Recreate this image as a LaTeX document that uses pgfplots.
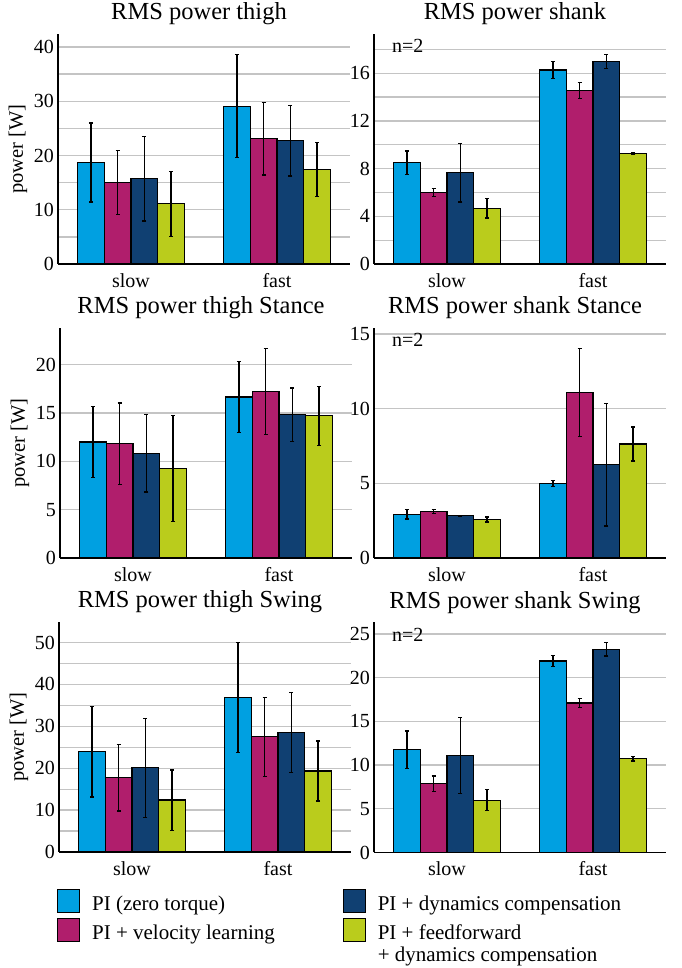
\documentclass[border=0pt]{standalone}
\usepackage{pgfplots}
\pgfplotsset{compat=1.18}
\usepackage{fontspec}
\setmainfont{Liberation Serif}
\definecolor{c1}{RGB}{0,160,225}
\definecolor{c2}{RGB}{176,30,108}
\definecolor{c3}{RGB}{16,64,114}
\definecolor{c4}{RGB}{186,204,28}
\definecolor{gridc}{RGB}{196,196,196}
\pgfplotsset{
  panel/.style={
    scale only axis, width=292pt, height=230pt,
    anchor=south west,
    xmin=-0.5, xmax=1.5, ymin=0,
    xtick={0,1}, xticklabels={slow,fast},
    axis x line*=bottom, axis y line*=left,
    axis line style={black, line width=1.5pt, -},
    major tick length=0pt, minor tick length=0pt,
    ymajorgrids,
    grid style={gridc, line width=1.3pt},
    minor grid style={gridc, line width=1.3pt},
    /pgf/number format/assume math mode=true,
    tick label style={font=\fontsize{20}{24}\selectfont},
    yticklabel style={inner sep=0pt, xshift=-4pt},
    xticklabel style={anchor=base, inner sep=0pt, yshift=-23.5pt},
    title style={font=\fontsize{24.5}{28}\selectfont, anchor=base, at={(0.5,1)}, yshift=8pt, xshift=-5pt},
    ylabel style={font=\fontsize{20.5}{24}\selectfont, at={(axis description cs:-0.137,0.5)}, anchor=center},
    ybar=0pt, bar width=26.7pt,
  },
  eb/.style={error bars/y dir=both, error bars/y explicit,
    error bars/error bar style={line width=1.6pt,black},
    error bars/error mark options={rotate=90, mark size=2pt, line width=1.3pt, black}},
  b1/.style={fill=c1, draw=black, line width=1.2pt, bar shift=-40.05pt, eb},
  b2/.style={fill=c2, draw=black, line width=1.2pt, bar shift=-13.35pt, eb},
  b3/.style={fill=c3, draw=black, line width=1.2pt, bar shift=13.35pt, eb},
  b4/.style={fill=c4, draw=black, line width=1.2pt, bar shift=40.05pt, eb},
  sw/.style={legend image code/.code={\draw[##1, line width=1.2pt] (0pt,-2pt) rectangle (22pt,21pt);}},
}
\newcommand{\ntwo}{\node[anchor=base west, inner sep=0pt, font=\fontsize{20}{24}\selectfont] at (rel axis cs:0.061,0.918) {n=2};}
\begin{document}
\begin{tikzpicture}
\path[use as bounding box] (0,0) rectangle (681pt,968pt);
% Row 1 left
\begin{axis}[panel, at={(58pt,704pt)}, ymax=42.4,
  ytick={0,10,...,40}, minor ytick={5,15,...,35}, yminorgrids,
  title={RMS power thigh}, ylabel={power [W]}]
\addplot[b1] coordinates {(0,18.7) +- (0,7.3) (1,29.1) +- (0,9.5)};
\addplot[b2] coordinates {(0,15.0) +- (0,5.9) (1,23.1) +- (0,6.7)};
\addplot[b3] coordinates {(0,15.7) +- (0,7.8) (1,22.7) +- (0,6.5)};
\addplot[b4] coordinates {(0,11.1) +- (0,6.0) (1,17.4) +- (0,5.0)};
\end{axis}
% Row 1 right
\begin{axis}[panel, at={(374pt,704pt)}, ymax=19.3,
  ytick={0,4,...,16}, minor ytick={2,6,...,18}, yminorgrids,
  title={RMS power shank}]
\addplot[b1] coordinates {(0,8.5) +- (0,0.97) (1,16.28) +- (0,0.74)};
\addplot[b2] coordinates {(0,6.0) +- (0,0.35) (1,14.55) +- (0,0.65)};
\addplot[b3] coordinates {(0,7.66) +- (0,2.45) (1,17.0) +- (0,0.6)};
\addplot[b4] coordinates {(0,4.67) +- (0,0.8) (1,9.26) +- (0,0.05)};
\ntwo
\end{axis}
% Row 2 left
\begin{axis}[panel, at={(60pt,410pt)}, ymax=23.8,
  ytick={0,5,...,20},
  title={RMS power thigh Stance}, ylabel={power [W]}]
\addplot[b1] coordinates {(0,12.0) +- (0,3.65) (1,16.66) +- (0,3.7)};
\addplot[b2] coordinates {(0,11.83) +- (0,4.2) (1,17.24) +- (0,4.45)};
\addplot[b3] coordinates {(0,10.83) +- (0,4.0) (1,14.83) +- (0,2.76)};
\addplot[b4] coordinates {(0,9.28) +- (0,5.5) (1,14.72) +- (0,3.05)};
\end{axis}
% Row 2 right
\begin{axis}[panel, at={(374pt,410pt)}, ymax=15.4,
  ytick={0,5,...,15},
  title={RMS power shank Stance}]
\addplot[b1] coordinates {(0,2.92) +- (0,0.31) (1,4.98) +- (0,0.21)};
\addplot[b2] coordinates {(0,3.12) +- (0,0.12) (1,11.07) +- (0,2.95)};
\addplot[b3] coordinates {(0,2.83) +- (0,0.02) (1,6.25) +- (0,4.1)};
\addplot[b4] coordinates {(0,2.57) +- (0,0.17) (1,7.63) +- (0,1.14)};
\ntwo
\end{axis}
% Row 3 left
\begin{axis}[panel, at={(59pt,116pt)}, ymax=54.9,
  ytick={0,10,...,50}, minor ytick={5,15,...,45}, yminorgrids,
  title={RMS power thigh Swing}, ylabel={power [W]},
  legend columns=2,
  legend style={at={(axis description cs:-0.006,-0.161)}, anchor=north west,
    draw=none, fill=none, inner sep=0pt, outer sep=0pt, row sep=5pt,
    font=\fontsize{21}{22}\selectfont,
    cells={anchor=base west},
    nodes={inner sep=0pt},
    /tikz/every odd column/.append style={column sep=11.7pt},
    /tikz/every even column/.append style={column sep=68pt}}]
\addlegendimage{sw, fill=c1, draw=black}
\addlegendentry{PI (zero torque)}
\addlegendimage{sw, fill=c3, draw=black}
\addlegendentry{PI + dynamics compensation}
\addlegendimage{sw, fill=c2, draw=black}
\addlegendentry{PI + velocity learning}
\addlegendimage{sw, fill=c4, draw=black}
\addlegendentry{\vtop{\hbox{PI + feedforward}\hbox{+ dynamics compensation}}}
\addplot[b1] coordinates {(0,23.9) +- (0,10.75) (1,36.9) +- (0,13.1)};
\addplot[b2] coordinates {(0,17.7) +- (0,7.9) (1,27.5) +- (0,9.45)};
\addplot[b3] coordinates {(0,20.1) +- (0,11.8) (1,28.5) +- (0,9.6)};
\addplot[b4] coordinates {(0,12.4) +- (0,7.2) (1,19.35) +- (0,7.15)};
\end{axis}
% Row 3 right
\begin{axis}[panel, at={(374pt,115.5pt)}, ymax=26.3,
  ytick={0,5,...,25},
  title={RMS power shank Swing}]
\addplot[b1] coordinates {(0,11.76) +- (0,2.13) (1,21.9) +- (0,0.6)};
\addplot[b2] coordinates {(0,7.86) +- (0,0.9) (1,17.1) +- (0,0.53)};
\addplot[b3] coordinates {(0,11.07) +- (0,4.35) (1,23.24) +- (0,0.78)};
\addplot[b4] coordinates {(0,5.99) +- (0,1.2) (1,10.72) +- (0,0.27)};
\ntwo
\end{axis}
\end{tikzpicture}
\end{document}
